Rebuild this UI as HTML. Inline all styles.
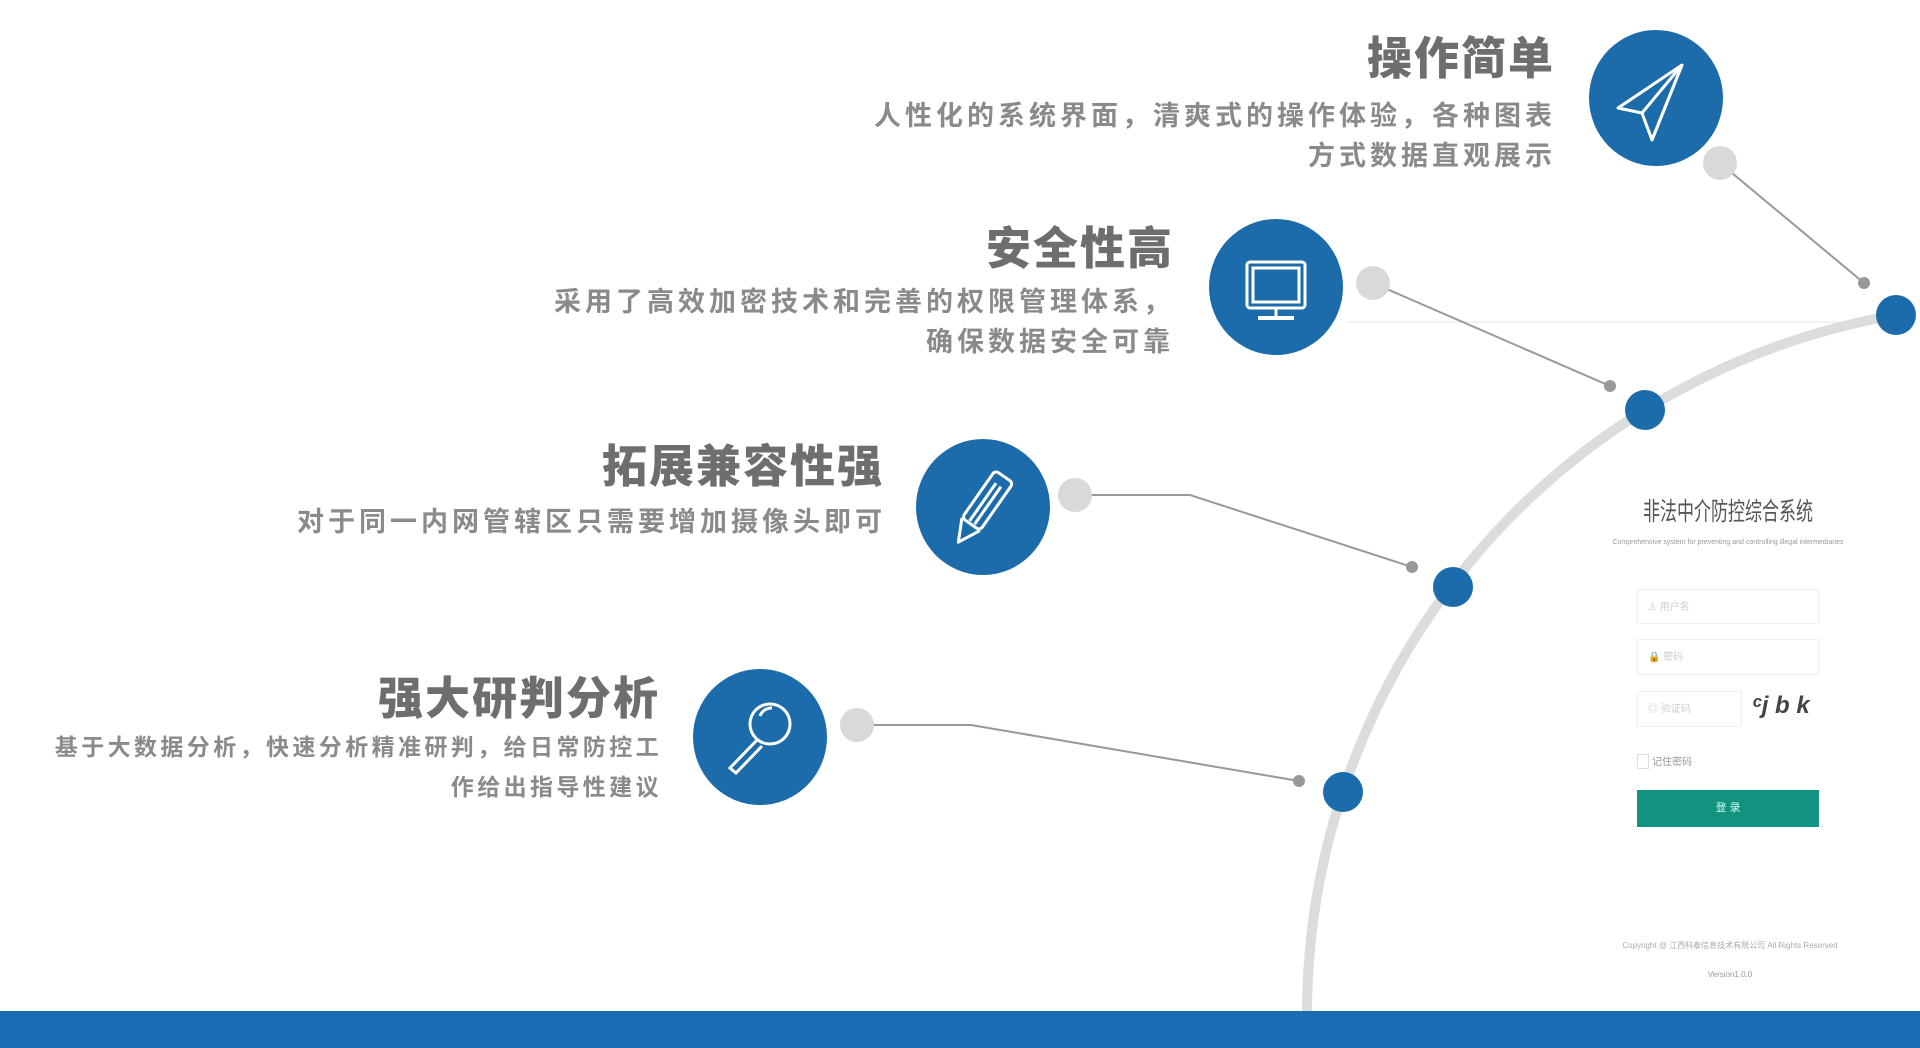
<!DOCTYPE html>
<html><head><meta charset="utf-8"><style>
html,body{margin:0;padding:0;width:1920px;height:1048px;overflow:hidden;background:#fff;}
body{position:relative;font-family:"Liberation Sans","Noto Sans CJK SC",sans-serif;}
.t{position:absolute;text-align:right;color:#6e6e6e;font-weight:900;white-space:nowrap;}
.h{font-size:45px;letter-spacing:2px;line-height:50px;}
.s{font-size:27px;letter-spacing:4px;line-height:40px;color:#8a8a8a;font-weight:700;}
.s4{font-size:23px;letter-spacing:3.4px;}
.lg{position:absolute;font-family:"Liberation Sans","Noto Sans CJK SC",sans-serif;color:#bbb;}
.in{position:absolute;border:1px solid #f0f0f0;background:#fff;font-size:10px;color:#ccc;line-height:36px;padding-left:10px;box-sizing:border-box;}
</style></head><body>
<svg width="1920" height="1048" style="position:absolute;left:0;top:0">
  <line x1="1347" y1="322" x2="1896" y2="322" stroke="#eeeeee" stroke-width="1.5"/>
  <path d="M1896,315 A710,710 0 0 0 1307,1011" fill="none" stroke="#dcdcdc" stroke-width="10"/>
  <line x1="1720" y1="163" x2="1864" y2="283" stroke="#999" stroke-width="2"/>
  <line x1="1373" y1="283" x2="1610" y2="386" stroke="#999" stroke-width="2"/>
  <polyline points="1075,495 1190,495 1412,567" fill="none" stroke="#999" stroke-width="2"/>
  <polyline points="857,725 971,725 1299,781" fill="none" stroke="#999" stroke-width="2"/>
  <g fill="#d9d9d9"><circle cx="1720" cy="163" r="17"/><circle cx="1373" cy="283" r="17"/><circle cx="1075" cy="495" r="17"/><circle cx="857" cy="725" r="17"/></g>
  <g fill="#999"><circle cx="1864" cy="283" r="6"/><circle cx="1610" cy="386" r="6"/><circle cx="1412" cy="567" r="6"/><circle cx="1299" cy="781" r="6"/></g>
  <g fill="#1c6cab"><circle cx="1896" cy="315" r="20"/><circle cx="1645" cy="410" r="20"/><circle cx="1453" cy="587" r="20"/><circle cx="1343" cy="792" r="20"/>
  <ellipse cx="1656" cy="98" rx="67" ry="68"/><ellipse cx="1276" cy="287" rx="67" ry="68"/><ellipse cx="983" cy="507" rx="67" ry="68"/><ellipse cx="760" cy="737" rx="67" ry="68"/></g>
  <g fill="none" stroke="#fff" stroke-width="3" stroke-linejoin="round">
    <path d="M1682,65 L1618,108 L1642,113 L1652,140 Z"/><path d="M1682,65 L1642,113"/><path d="M1682,65 L1652,140"/>
  </g>
  <g fill="none" stroke="#fff" stroke-width="3">
    <rect x="1247" y="262" width="58" height="46" rx="3"/><rect x="1253" y="268" width="46" height="34"/>
    <line x1="1276" y1="308" x2="1276" y2="316"/><line x1="1258" y1="318" x2="1294" y2="318" stroke-width="4"/>
  </g>
  <g fill="none" stroke="#fff" stroke-width="3" stroke-linejoin="round" transform="rotate(35 983 507)">
    <rect x="972" y="470" width="22" height="58" rx="4"/><path d="M972,528 L983,550 L994,528"/><line x1="980" y1="480" x2="980" y2="526"/><line x1="986" y1="480" x2="986" y2="526"/>
  </g>
  <g fill="none" stroke="#fff" stroke-width="3">
    <circle cx="770" cy="724" r="20"/><path d="M757,740 L730,768 L736,773 L762,746"/><path d="M760,716 A12,12 0 0 1 772,708"/>
  </g>
  <rect x="0" y="1011" width="1920" height="37" fill="#1a6db3"/>
</svg>

<div class="t h" style="right:365px;top:34px">操作简单</div>
<div class="t s" style="right:364px;top:96px">人性化的系统界面，清爽式的操作体验，各种图表<br>方式数据直观展示</div>
<div class="t h" style="right:746px;top:224px">安全性高</div>
<div class="t s" style="right:746px;top:282px">采用了高效加密技术和完善的权限管理体系，<br>确保数据安全可靠</div>
<div class="t h" style="right:1036px;top:442px">拓展兼容性强</div>
<div class="t s" style="right:1034px;top:502px">对于同一内网管辖区只需要增加摄像头即可</div>
<div class="t h" style="right:1260px;top:674px">强大研判分析</div>
<div class="t s s4" style="right:1258px;top:727px">基于大数据分析，快速分析精准研判，给日常防控工<br>作给出指导性建议</div>

<div class="lg" style="left:1578px;width:300px;top:492px;text-align:center;font-size:25px;color:#555;white-space:nowrap;transform:scaleX(0.68);">非法中介防控综合系统</div>
<div class="lg" style="left:1578px;width:300px;top:539px;text-align:center;font-size:7px;color:#999;white-space:nowrap;">Comprehensive system for preventing and controlling illegal intermediaries</div>
<div class="in" style="left:1637px;top:589px;width:182px;height:35px;">♙ 用户名</div>
<div class="in" style="left:1637px;top:639px;width:182px;height:36px;">🔒 密码</div>
<div class="in" style="left:1637px;top:691px;width:105px;height:36px;">◎ 验证码</div>
<div class="lg" style="left:1752px;top:692px;font-size:24px;color:#444;font-style:italic;font-weight:700;">ᶜj b k</div>
<div style="position:absolute;left:1637px;top:754px;width:10px;height:13px;border:1px solid #ddd;"></div>
<div class="lg" style="left:1652px;top:753px;font-size:10px;color:#999;">记住密码</div>
<div style="position:absolute;left:1637px;top:790px;width:182px;height:37px;background:#129381;color:#cfe;font-size:11px;text-align:center;line-height:37px;">登 录</div>
<div class="lg" style="left:1620px;width:220px;top:940px;text-align:center;font-size:8px;color:#aaa;white-space:nowrap;">Copyright @ 江西科泰信息技术有限公司 All Rights Reserved</div>
<div class="lg" style="left:1620px;width:220px;top:970px;text-align:center;font-size:8px;color:#999;">Version1.0.0</div>
</body></html>
